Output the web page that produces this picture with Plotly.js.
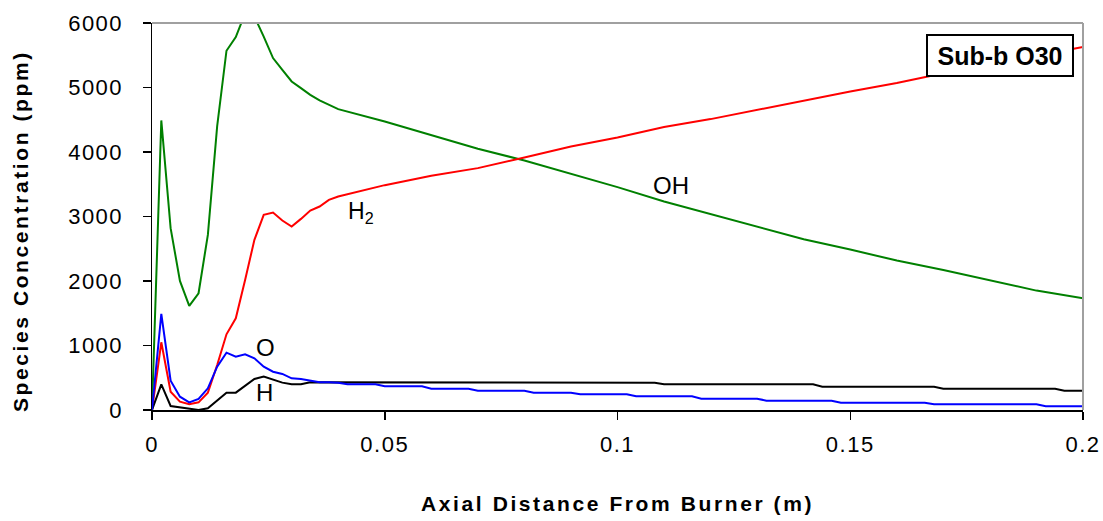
<!DOCTYPE html>
<html>
<head>
<meta charset="utf-8">
<script src="https://cdn.plot.ly/plotly-3.0.1.min.js"></script>
<style>
  html, body { margin: 0; padding: 0; background: #fff; }
  #chart { width: 1103px; height: 521px; }
  .xtick text, .ytick text { letter-spacing: 1.5px; }
  g.annotation[data-index="0"] text, g.annotation[data-index="1"] text { letter-spacing: 2.6px; }
</style>
</head>
<body>
<div id="chart"></div>
<script>
// Axial distance (m) - near-burner region, every 0.002 m
const xNear = [0,0.002,0.004,0.006,0.008,0.010,0.012,0.014,0.016,0.018,0.020,0.022,0.024,0.026,0.028,0.030,0.032,0.034,0.036,0.038,0.040];
// Far region for OH and H2
const xFar = [0.05,0.06,0.07,0.08,0.09,0.10,0.11,0.12,0.13,0.14,0.15,0.16,0.17,0.18,0.19,0.20];

// OH (ppm)
const ohNear = [0,4489,2819,2002,1614,1810,2715,4400,5570,5783,6150,6100,5790,5456,5275,5094,4990,4887,4800,4732,4665];
const ohFar  = [4474,4267,4050,3868,3662,3455,3232,3041,2844,2648,2488,2317,2172,2006,1851,1733];

// H2 (ppm)
const h2Near = [0,1050,284,129,88,119,269,698,1174,1422,2017,2638,3026,3062,2938,2844,2963,3093,3155,3258,3310];
const h2Far  = [3486,3631,3750,3915,4086,4225,4386,4510,4655,4790,4939,5069,5222,5355,5490,5630];

// O (ppm)
const oNear = [0,1490,455,206,119,171,336,672,889,827,864,802,672,594,559,491,481,450,429,429,424];
const oFarX = [0.042,0.048,0.050,0.058,0.060,0.068,0.070,0.080,0.082,0.090,0.092,0.102,0.104,0.116,0.118,0.130,0.132,0.146,0.148,0.166,0.168,0.190,0.192,0.200];
const oFarY = [398,398,367,367,331,331,300,300,269,269,243,243,212,212,176,176,145,145,114,114,88,88,57,57];

// H (ppm)
const hNear = [0,398,62,41,10,0,26,155,269,269,378,481,517,465,424,398,398,429,429,429,424];
const hFarX = [0.108,0.110,0.142,0.144,0.168,0.170,0.194,0.196,0.200];
const hFarY = [424,398,398,362,362,331,331,300,300];

// Tick values
const xTicks = [0,0.05,0.1,0.15,0.2];
const xTickText = ['0','0.05','0.1','0.15','0.2'];
const yTicks = [0,1000,2000,3000,4000,5000,6000];

const FONT = 'Liberation Sans, Arial, sans-serif';

const traces = [
  { name:'OH', x: xNear.concat(xFar), y: ohNear.concat(ohFar), color:'#008000' },
  { name:'H2', x: xNear.concat(xFar), y: h2Near.concat(h2Far), color:'#ff0000' },
  { name:'H',  x: xNear.concat(hFarX), y: hNear.concat(hFarY), color:'#000000' },
  { name:'O',  x: xNear.concat(oFarX), y: oNear.concat(oFarY), color:'#0000ff' }
].map(t => ({
  type:'scatter', mode:'lines', name:t.name, x:t.x, y:t.y,
  line:{ color:t.color, width:2 }, hoverinfo:'skip'
}));

const axisCommon = {
  showgrid:false, zeroline:false, showline:true, linecolor:'#000', linewidth:1.5,
  ticks:'outside', ticklen:8, tickwidth:1.5, tickcolor:'#000',
  tickfont:{ family:FONT, size:22, color:'#000' }, fixedrange:true
};

const layout = {
  width:1103, height:521,
  margin:{ l:152, r:20, t:23, b:111, pad:0 },
  paper_bgcolor:'#fff', plot_bgcolor:'#fff',
  showlegend:false,
  xaxis: Object.assign({}, axisCommon, { range:[0,0.2], tickvals:xTicks, ticktext:xTickText, ticklabelstandoff:6 }),
  yaxis: Object.assign({}, axisCommon, { range:[0,6000], tickvals:yTicks, ticklabelstandoff:15 }),
  shapes:[
    { type:'line', xref:'paper', yref:'paper', x0:0, x1:1, y0:1, y1:1, line:{ color:'#a0a0a0', width:2 } },
    { type:'line', xref:'paper', yref:'paper', x0:1, x1:1, y0:0, y1:1, line:{ color:'#a0a0a0', width:2 } }
  ],
  annotations:[
    { text:'<b>Axial Distance From Burner (m)</b>', xref:'paper', yref:'paper', x:0.5, y:-0.242,
      xanchor:'center', yanchor:'middle', showarrow:false, font:{ family:FONT, size:21, color:'#000' } },
    { text:'<b>Species Concentration (ppm)</b>', xref:'paper', yref:'paper', x:-0.1418, y:0.4625,
      xanchor:'center', yanchor:'middle', textangle:-90, showarrow:false, font:{ family:FONT, size:21, color:'#000' } },
    { text:'<b>Sub-b O30</b>', xref:'paper', yref:'paper', x:0.9109, y:0.9165, xanchor:'center', yanchor:'middle',
      showarrow:false, width:144, height:39, borderwidth:2, borderpad:0, bordercolor:'#000', bgcolor:'#fff',
      font:{ family:FONT, size:25, color:'#000' } },
    { text:'OH', x:0.1115, y:3476, xref:'x', yref:'y', showarrow:false, xanchor:'center', yanchor:'middle',
      font:{ family:FONT, size:24, color:'#000' } },
    { text:'H<sub>2</sub>', x:0.0417, y:3060, xref:'x', yref:'y', showarrow:false, xanchor:'left', yanchor:'middle',
      font:{ family:FONT, size:23, color:'#000' } },
    { text:'O', x:0.0243, y:962, xref:'x', yref:'y', showarrow:false, xanchor:'center', yanchor:'middle',
      font:{ family:FONT, size:24, color:'#000' } },
    { text:'H', x:0.0241, y:279, xref:'x', yref:'y', showarrow:false, xanchor:'center', yanchor:'middle',
      font:{ family:FONT, size:24, color:'#000' } }
  ]
};

Plotly.newPlot('chart', traces, layout, { displayModeBar:false, staticPlot:true });
</script>
</body>
</html>
